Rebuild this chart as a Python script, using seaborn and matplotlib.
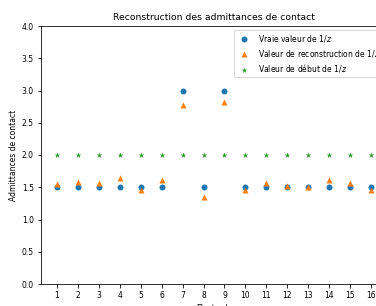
import numpy as np
import pandas as pd
import seaborn as sns
import matplotlib.pyplot as plt

electrodes = list(range(1, 17))
vraie = [1.5, 1.5, 1.5, 1.5, 1.5, 1.5, 3.0, 1.5, 3.0, 1.5, 1.5, 1.5, 1.5, 1.5, 1.5, 1.5]
reconstruction = [1.55, 1.58, 1.57, 1.65, 1.45, 1.61, 2.77, 1.35, 2.82, 1.45, 1.57, 1.52, 1.50, 1.61, 1.57, 1.46]
debut = [2.0] * 16

labels = ['Vraie valeur de 1/$z$', 'Valeur de reconstruction de 1/$z$', 'Valeur de début de 1/$z$']

plt.rcParams['font.size'] = 7.6
plt.rcParams['axes.titlesize'] = 9.2

dpi = 72
fig = plt.figure(figsize=(376 / dpi, 306 / dpi), dpi=dpi)
# axes run past the right edge, like the cropped original
ax = fig.add_axes([41 / 376, 22 / 306, 346 / 376, 258 / 306])

sns.scatterplot(x=electrodes, y=vraie, marker='o', color='C0', linewidth=0, s=36, label=labels[0], ax=ax)
sns.scatterplot(x=electrodes, y=reconstruction, marker='^', color='C1', linewidth=0, s=36, label=labels[1], ax=ax)
sns.scatterplot(x=electrodes, y=debut, marker='*', color='C2', linewidth=0, s=36, label=labels[2], ax=ax)

ax.set_ylim(0, 4)
ax.set_xlim(0.25, 16.75)
ax.set_xticks(electrodes)
ax.set_yticks(np.arange(0, 4.01, 0.5))
ax.set_xlabel('Electrode')
ax.set_ylabel('Admittances de contact')
ax.set_title('Reconstruction des admittances de contact')
ax.legend(loc='upper right')

fig.savefig('out.png', dpi=dpi)
